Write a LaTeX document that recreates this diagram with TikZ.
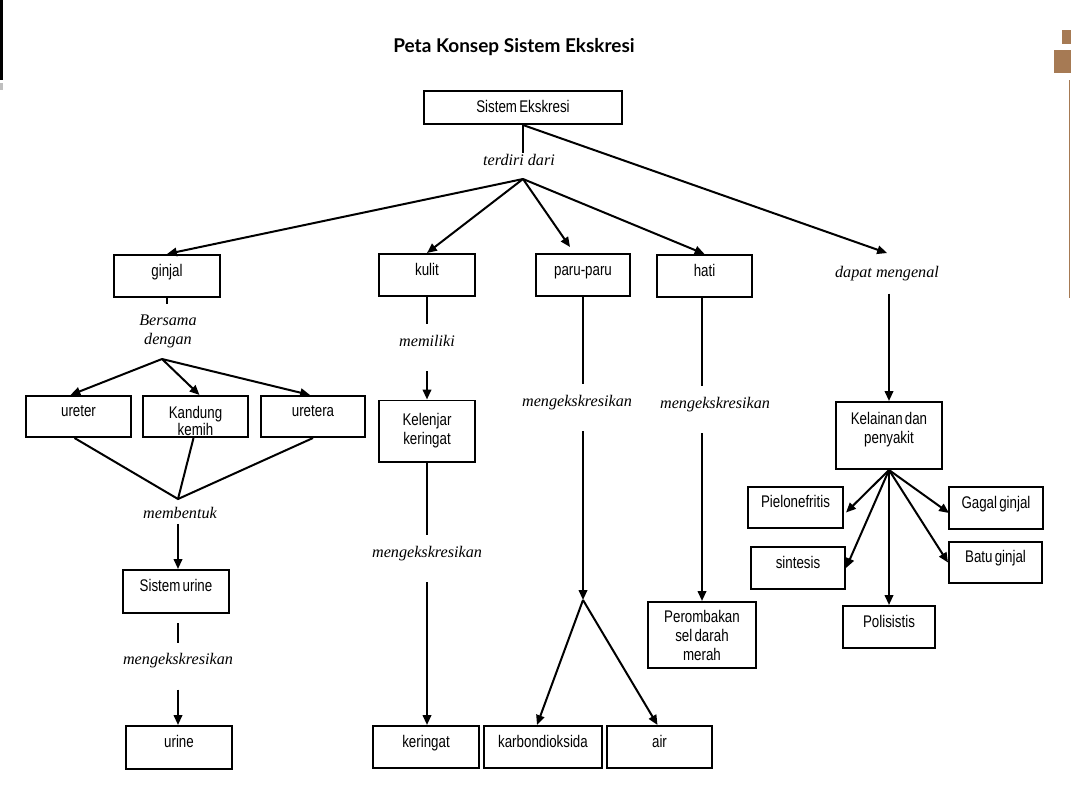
\documentclass[tikz,border=0pt]{standalone}
\usepackage{fontspec}
\usetikzlibrary{arrows.meta}
\usetikzlibrary{calc}
\newfontfamily\boxfont[FakeStretch=0.79,WordSpace=0.6]{Liberation Sans}
\newfontfamily\verbfont{Liberation Serif}
\newfontfamily\titlefont{Lato}
\definecolor{bronze}{RGB}{166,122,84}
\tikzset{size/.style n args={2}{minimum width=#1*0.7113pt, minimum height=#2*0.7113pt}}

\begin{document}
\begin{tikzpicture}[
  x=0.025cm, y=-0.025cm,
  line width=1.42pt,
  box/.style={draw, inner sep=0pt, font=\boxfont\fontsize{12}{13.5}\selectfont, text height=8.6pt, text depth=8.6pt},
  tallbox/.style={draw, inner sep=0pt, align=center, font=\boxfont\fontsize{12}{13.5}\selectfont},
  boxtext/.style={inner sep=0pt, align=center, font=\boxfont\fontsize{12}{13.5}\selectfont},
  verb/.style={inner sep=0pt, font=\verbfont\itshape\fontsize{11.5}{13.5}\selectfont},
  gap/.style={text height=15pt, text depth=17pt},
  arrow/.style={-{Triangle[length=7pt,width=6pt]}}
]
\useasboundingbox (0,0) rectangle (1071,789);

% page decoration
\fill (0,0) rectangle (2.5,80);
\fill[black!25] (0,83) rectangle (3,90);
\fill[bronze] (1062,30) rectangle (1071,44);
\fill[bronze] (1054,50) rectangle (1071,73);
\draw[bronze, line width=1pt] (1069.5,80) -- (1069.5,298);

\node[font=\titlefont\bfseries\fontsize{13.5}{16}\selectfont] (title) at (514,47) {Peta Konsep Sistem Ekskresi};

\node[box, size={198}{33}, text depth=0.8pt] (sistem) at (523,107.5) {Sistem Ekskresi};
\node[verb, text height=8pt, text depth=2pt] (terdiri) at (519,161) {terdiri dari};
\coordinate (jt) at (523,179);

\node[box, size={106}{42}] (ginjal) at (167,276) {ginjal};
\node[box, size={96}{42}]  (kulit) at (427,275) {kulit};
\node[box, size={94}{42}]  (paru) at (583,275) {paru-paru};
\node[box, size={95}{42}]  (hati) at (704.5,276) {hati};
\node[verb, text height=16.6pt, text depth=10.9pt] (dapat) at (887,273.4) {dapat mengenal};

\draw (sistem.south) -- (sistem.south |- terdiri.north);
\draw[arrow] (jt) -- (ginjal.north);
\draw[arrow] (jt) -- (kulit.north);
\draw[arrow] (jt) -- ($(paru.north)+(-13,-6)$);
\draw[arrow] (jt) -- (hati.north);
\draw[arrow] (sistem.south) -- (dapat.north);

% ginjal
\coordinate (gstub) at (167,304);
\node[verb, align=center] (bersama) at (168,331) {Bersama\\dengan};
\coordinate (jb) at (162,359);
\node[box, size={105}{41}] (ureter) at (78.5,416.5) {ureter};
\node[draw, size={105}{41}] (kandung) at (195.5,416.5) {};
\node[boxtext, font=\boxfont\fontsize{12}{12}\selectfont] (kandungtxt) at (195.5,421) {Kandung\\kemih};
\node[box, size={104}{41}] (uretera) at (313,416.5) {uretera};
\coordinate (jm) at (178,499);
\node[verb, text height=8pt, text depth=3.3pt] (membentuk) at (180,515) {membentuk};
\node[box, size={106}{43}] (sisurine) at (176,591.5) {Sistem urine};
\node[verb, gap] (murine) at (178,666) {mengekskresikan};
\node[box, size={106}{43}] (urine) at (179,747.5) {urine};

\draw (ginjal.south) -- (gstub);
\draw[arrow] (jb) -- ($(ureter.north)+(-8,0)$);
\draw[arrow] (jb) -- ($(kandung.north)+(4,0)$);
\draw[arrow] (jb) -- ($(uretera.north)+(-3,0)$);
\draw ($(ureter.south)+(-4,0)$) -- (jm) -- (uretera.south);
\draw ($(kandung.south)+(-2,0)$) -- (jm);
\draw[arrow] (jm |- membentuk.south) -- (jm |- sisurine.north);
\draw (murine.north |- sisurine.south) ++(0,9) -- (murine.north);
\draw[arrow] (murine.south) -- (murine.south |- urine.north);

% kulit
\node[verb, gap] (memiliki) at (427,347.5) {memiliki};
\node[tallbox, size={96}{61}] (kelenjar) at (427,431) {Kelenjar\\keringat};
\node[verb, gap] (mkulit) at (427,558.5) {mengekskresikan};
\node[box, size={106}{42}] (keringat) at (426,747) {keringat};

\draw (kulit.south) -- (kulit.south |- memiliki.north);
\draw[arrow] (kulit.south |- memiliki.south) -- (kulit.south |- kelenjar.north);
\draw (kulit.south |- kelenjar.south) -- (kulit.south |- mkulit.north);
\draw[arrow] (kulit.south |- mkulit.south) -- (kulit.south |- keringat.north);

% paru-paru
\node[verb, gap] (mparu) at (577,407.5) {mengekskresikan};
\coordinate (jp) at (583,600);
\node[box, size={118}{42}] (karbon) at (543,747) {karbondioksida};
\node[box, size={105}{42}] (air) at (659.5,747) {air};

\draw (paru.south) -- (paru.south |- mparu.north);
\draw[arrow] (paru.south |- mparu.south) -- (jp);
\draw[arrow] (jp) -- ($(karbon.north)+(-6,0)$);
\draw[arrow] (jp) -- ($(air.north)+(-2,0)$);

% hati
\node[verb, gap] (mhati) at (715,409.5) {mengekskresikan};
\node[tallbox, size={108}{66}] (perombakan) at (702,635) {Perombakan\\sel darah\\merah};

\draw (perombakan.north |- hati.south) -- (perombakan.north |- mhati.north);
\draw[arrow] (perombakan.north |- mhati.south) -- (perombakan.north);

% kelainan
\node[draw, size={106}{67}] (kelainan) at (889,435.5) {};
\node[boxtext] (kelainantxt) at (889,429.5) {Kelainan dan\\penyakit};
\node[box, size={95}{41}] (pielo) at (795.5,507.5) {Pielonefritis};
\node[box, size={94}{42}] (sintesis) at (798,568) {sintesis};
\node[box, size={92}{42}] (polisistis) at (889,627) {Polisistis};
\node[box, size={94}{42}] (gagal) at (996,508) {Gagal ginjal};
\node[box, size={93}{41}] (batu) at (995.5,562.5) {Batu ginjal};

\draw[arrow] (kelainan.north |- dapat.south) -- (kelainan.north);
\draw[arrow] (kelainan.south) -- ($(pielo.east)+(2,5)$);
\draw[arrow] (kelainan.south) -- (sintesis.east);
\draw[arrow] (kelainan.south) -- (polisistis.north);
\draw[arrow] (kelainan.south) -- ($(gagal.west)+(1,5)$);
\draw[arrow] (kelainan.south) -- (batu.west);

\end{tikzpicture}
\end{document}
